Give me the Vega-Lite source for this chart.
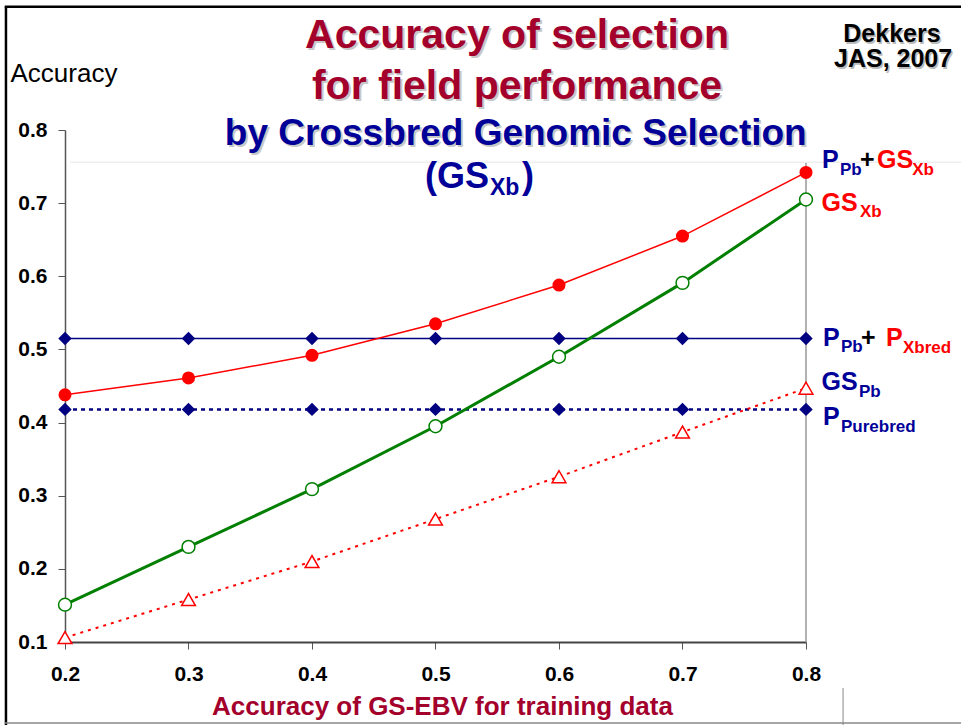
{
  "$schema": "https://vega.github.io/schema/vega-lite/v6.json",
  "width": 741,
  "height": 512,
  "autosize": {"type": "none"},
  "padding": {"left": 65, "top": 130, "right": 155, "bottom": 83},
  "background": "white",
  "config": {"view": {"stroke": null}, "font": "Liberation Sans"},
  "data": {"values": [{}]},
  "datasets": {
    "acc": [
      {"series": "PbXbred", "x": 0.2, "y": 0.515},
      {"series": "PbXbred", "x": 0.3, "y": 0.515},
      {"series": "PbXbred", "x": 0.4, "y": 0.515},
      {"series": "PbXbred", "x": 0.5, "y": 0.515},
      {"series": "PbXbred", "x": 0.6, "y": 0.515},
      {"series": "PbXbred", "x": 0.7, "y": 0.515},
      {"series": "PbXbred", "x": 0.8, "y": 0.515},
      {"series": "Purebred", "x": 0.2, "y": 0.418},
      {"series": "Purebred", "x": 0.3, "y": 0.418},
      {"series": "Purebred", "x": 0.4, "y": 0.418},
      {"series": "Purebred", "x": 0.5, "y": 0.418},
      {"series": "Purebred", "x": 0.6, "y": 0.418},
      {"series": "Purebred", "x": 0.7, "y": 0.418},
      {"series": "Purebred", "x": 0.8, "y": 0.418},
      {"series": "PbGSXb", "x": 0.2, "y": 0.438},
      {"series": "PbGSXb", "x": 0.3, "y": 0.461},
      {"series": "PbGSXb", "x": 0.4, "y": 0.492},
      {"series": "PbGSXb", "x": 0.5, "y": 0.535},
      {"series": "PbGSXb", "x": 0.6, "y": 0.588},
      {"series": "PbGSXb", "x": 0.7, "y": 0.655},
      {"series": "PbGSXb", "x": 0.8, "y": 0.742},
      {"series": "GSXb", "x": 0.2, "y": 0.151},
      {"series": "GSXb", "x": 0.3, "y": 0.230},
      {"series": "GSXb", "x": 0.4, "y": 0.309},
      {"series": "GSXb", "x": 0.5, "y": 0.395},
      {"series": "GSXb", "x": 0.6, "y": 0.490},
      {"series": "GSXb", "x": 0.7, "y": 0.591},
      {"series": "GSXb", "x": 0.8, "y": 0.705},
      {"series": "GSPb", "x": 0.2, "y": 0.106},
      {"series": "GSPb", "x": 0.3, "y": 0.158},
      {"series": "GSPb", "x": 0.4, "y": 0.210},
      {"series": "GSPb", "x": 0.5, "y": 0.268},
      {"series": "GSPb", "x": 0.6, "y": 0.326},
      {"series": "GSPb", "x": 0.7, "y": 0.387},
      {"series": "GSPb", "x": 0.8, "y": 0.447}
    ]
  },
  "layer": [
    {
      "data": {"name": "acc"},
      "transform": [{"filter": "datum.series === 'Purebred'"}],
      "mark": {"type": "line", "color": "#000080", "strokeWidth": 2.5, "strokeDash": [4, 4]},
      "encoding": {
        "x": {
          "field": "x", "type": "quantitative",
          "scale": {"domain": [0.2, 0.8], "nice": false, "zero": false},
          "axis": {
            "values": [0.2, 0.3, 0.4, 0.5, 0.6, 0.7, 0.8], "format": ".1f",
            "grid": false, "domainColor": "#444444", "domainWidth": 2,
            "tickColor": "#555555", "tickSize": 7, "tickWidth": 1,
            "labelFont": "Liberation Sans", "labelFontWeight": "bold", "labelFontSize": 21, "labelColor": "#000000",
            "labelPadding": 14, "labelFlush": false, "labelOverlap": false,
            "title": "Accuracy of GS-EBV for training data",
            "titleFont": "Liberation Sans", "titleFontWeight": "bold", "titleFontSize": 26, "titleColor": "#A3002C",
            "titleX": 377, "titleY": 72, "titleBaseline": "alphabetic", "titleAlign": "center"
          }
        },
        "y": {
          "field": "y", "type": "quantitative",
          "scale": {"domain": [0.1, 0.8], "nice": false, "zero": false},
          "axis": {
            "values": [0.1, 0.2, 0.3, 0.4, 0.5, 0.6, 0.7, 0.8], "format": ".1f",
            "grid": false, "domainColor": "#555555", "domainWidth": 1.5,
            "tickColor": "#555555", "tickSize": 7, "tickWidth": 1,
            "labelFont": "Liberation Sans", "labelFontWeight": "bold", "labelFontSize": 21, "labelColor": "#000000",
            "labelPadding": 11, "labelFlush": false, "labelOverlap": false,
            "title": "Accuracy",
            "titleFont": "Liberation Sans", "titleFontWeight": "normal", "titleFontSize": 26, "titleColor": "#000000",
            "titleAngle": 0, "titleAlign": "left", "titleBaseline": "alphabetic", "titleX": -55, "titleY": -49
          }
        }
      }
    },
    {
      "data": {"name": "acc"},
      "transform": [{"filter": "datum.series === 'PbXbred'"}],
      "mark": {"type": "line", "color": "#000080", "strokeWidth": 1.5},
      "encoding": {"x": {"field": "x", "type": "quantitative"}, "y": {"field": "y", "type": "quantitative"}}
    },
    {
      "data": {"name": "acc"},
      "transform": [{"filter": "datum.series === 'GSPb'"}],
      "mark": {"type": "line", "color": "#FF0000", "strokeWidth": 2, "strokeDash": [3, 5]},
      "encoding": {"x": {"field": "x", "type": "quantitative"}, "y": {"field": "y", "type": "quantitative"}}
    },
    {
      "data": {"name": "acc"},
      "transform": [{"filter": "datum.series === 'GSXb'"}],
      "mark": {"type": "line", "color": "#007F00", "strokeWidth": 3},
      "encoding": {"x": {"field": "x", "type": "quantitative"}, "y": {"field": "y", "type": "quantitative"}}
    },
    {
      "data": {"name": "acc"},
      "transform": [{"filter": "datum.series === 'PbGSXb'"}],
      "mark": {"type": "line", "color": "#FF0000", "strokeWidth": 1.5},
      "encoding": {"x": {"field": "x", "type": "quantitative"}, "y": {"field": "y", "type": "quantitative"}}
    },
    {
      "mark": {"type": "rule", "color": "#999999", "strokeWidth": 1.5},
      "encoding": {"x": {"datum": 0.8}, "y": {"datum": 0.1}, "y2": {"datum": 0.755}}
    },
    {
      "mark": {"type": "rule", "color": "#e6e6e6", "strokeWidth": 1},
      "encoding": {"x": {"datum": 0.204}, "x2": {"datum": 0.93}, "y": {"datum": 0.756}}
    },
    {
      "mark": {"type": "rule", "color": "#888888", "strokeWidth": 1},
      "encoding": {"x": {"datum": 0.83}, "y": {"datum": 0.037}, "y2": {"datum": -0.014}}
    },
    {
      "mark": {"type": "rule", "color": "#000000", "strokeWidth": 2.5},
      "encoding": {"x": {"datum": 0.1522}, "y": {"datum": 0.9685}, "y2": {"datum": -0.014}}
    },
    {
      "mark": {"type": "rule", "color": "#000000", "strokeWidth": 2.5},
      "encoding": {"x": {"datum": 0.1512}, "x2": {"datum": 0.93}, "y": {"datum": 0.9685}}
    },
    {
      "mark": {"type": "rule", "color": "#888888", "strokeWidth": 1.5},
      "encoding": {"x": {"datum": 0.1512}, "x2": {"datum": 0.93}, "y": {"datum": -0.0107}}
    },
    {
      "data": {"name": "acc"},
      "transform": [{"filter": "datum.series === 'Purebred' || datum.series === 'PbXbred'"}],
      "mark": {"type": "point", "shape": "diamond", "filled": true, "color": "#000080", "size": 180, "opacity": 1},
      "encoding": {"x": {"field": "x", "type": "quantitative"}, "y": {"field": "y", "type": "quantitative"}}
    },
    {
      "data": {"name": "acc"},
      "transform": [{"filter": "datum.series === 'GSPb'"}],
      "mark": {"type": "point", "shape": "triangle-up", "filled": true, "fill": "#FFFFFF", "stroke": "#FF0000", "strokeWidth": 1.5, "size": 190, "opacity": 1},
      "encoding": {"x": {"field": "x", "type": "quantitative"}, "y": {"field": "y", "type": "quantitative"}}
    },
    {
      "data": {"name": "acc"},
      "transform": [{"filter": "datum.series === 'GSXb'"}],
      "mark": {"type": "point", "shape": "circle", "filled": true, "fill": "#FFFFFF", "stroke": "#007F00", "strokeWidth": 1.5, "size": 165, "opacity": 1},
      "encoding": {"x": {"field": "x", "type": "quantitative"}, "y": {"field": "y", "type": "quantitative"}}
    },
    {
      "data": {"name": "acc"},
      "transform": [{"filter": "datum.series === 'PbGSXb'"}],
      "mark": {"type": "point", "shape": "circle", "filled": true, "color": "#FF0000", "size": 170, "opacity": 1},
      "encoding": {"x": {"field": "x", "type": "quantitative"}, "y": {"field": "y", "type": "quantitative"}}
    },
    {
      "mark": {"type": "text", "text": "Accuracy of selection", "font": "Liberation Sans", "fontWeight": "bold", "fontSize": 41, "color": "#C8C8C8", "align": "center", "baseline": "alphabetic", "dx": 2, "dy": 2},
      "encoding": {"x": {"datum": 0.566}, "y": {"datum": 0.912}}
    },
    {
      "mark": {"type": "text", "text": "Accuracy of selection", "font": "Liberation Sans", "fontWeight": "bold", "fontSize": 41, "color": "#A3002C", "align": "center", "baseline": "alphabetic"},
      "encoding": {"x": {"datum": 0.566}, "y": {"datum": 0.912}}
    },
    {
      "mark": {"type": "text", "text": "for field performance", "font": "Liberation Sans", "fontWeight": "bold", "fontSize": 41, "color": "#C8C8C8", "align": "center", "baseline": "alphabetic", "dx": 2, "dy": 2},
      "encoding": {"x": {"datum": 0.566}, "y": {"datum": 0.8424}}
    },
    {
      "mark": {"type": "text", "text": "for field performance", "font": "Liberation Sans", "fontWeight": "bold", "fontSize": 41, "color": "#A3002C", "align": "center", "baseline": "alphabetic"},
      "encoding": {"x": {"datum": 0.566}, "y": {"datum": 0.8424}}
    },
    {
      "mark": {"type": "text", "text": "by Crossbred Genomic Selection", "font": "Liberation Sans", "fontWeight": "bold", "fontSize": 37, "color": "#C8C8C8", "align": "center", "baseline": "alphabetic", "dx": 2, "dy": 2},
      "encoding": {"x": {"datum": 0.565}, "y": {"datum": 0.7795}}
    },
    {
      "mark": {"type": "text", "text": "by Crossbred Genomic Selection", "font": "Liberation Sans", "fontWeight": "bold", "fontSize": 37, "color": "#000099", "align": "center", "baseline": "alphabetic"},
      "encoding": {"x": {"datum": 0.565}, "y": {"datum": 0.7795}}
    },
    {
      "mark": {"type": "text", "text": "(GS", "font": "Liberation Sans", "fontWeight": "bold", "fontSize": 36, "color": "#000099", "align": "right", "baseline": "alphabetic"},
      "encoding": {"x": {"datum": 0.5433}, "y": {"datum": 0.7207}}
    },
    {
      "mark": {"type": "text", "text": "Xb", "font": "Liberation Sans", "fontWeight": "bold", "fontSize": 23, "color": "#000099", "align": "left", "baseline": "alphabetic"},
      "encoding": {"x": {"datum": 0.5441}, "y": {"datum": 0.7111}}
    },
    {
      "mark": {"type": "text", "text": ")", "font": "Liberation Sans", "fontWeight": "bold", "fontSize": 36, "color": "#000099", "align": "left", "baseline": "alphabetic"},
      "encoding": {"x": {"datum": 0.5700}, "y": {"datum": 0.7207}}
    },
    {
      "mark": {"type": "text", "text": "Dekkers", "font": "Liberation Sans", "fontWeight": "bold", "fontSize": 25, "color": "#BBBBBB", "align": "center", "baseline": "alphabetic", "dx": 1.5, "dy": 1.5},
      "encoding": {"x": {"datum": 0.8696}, "y": {"datum": 0.9203}}
    },
    {
      "mark": {"type": "text", "text": "Dekkers", "font": "Liberation Sans", "fontWeight": "bold", "fontSize": 25, "color": "#000000", "align": "center", "baseline": "alphabetic"},
      "encoding": {"x": {"datum": 0.8696}, "y": {"datum": 0.9203}}
    },
    {
      "mark": {"type": "text", "text": "JAS, 2007", "font": "Liberation Sans", "fontWeight": "bold", "fontSize": 25, "color": "#BBBBBB", "align": "center", "baseline": "alphabetic", "dx": 1.5, "dy": 1.5},
      "encoding": {"x": {"datum": 0.8705}, "y": {"datum": 0.8861}}
    },
    {
      "mark": {"type": "text", "text": "JAS, 2007", "font": "Liberation Sans", "fontWeight": "bold", "fontSize": 25, "color": "#000000", "align": "center", "baseline": "alphabetic"},
      "encoding": {"x": {"datum": 0.8705}, "y": {"datum": 0.8861}}
    },
    {
      "mark": {"type": "text", "text": "P", "font": "Liberation Sans", "fontWeight": "bold", "fontSize": 25, "color": "#000099", "align": "left", "baseline": "alphabetic"},
      "encoding": {"x": {"datum": 0.8130}, "y": {"datum": 0.7480}}
    },
    {
      "mark": {"type": "text", "text": "Pb", "font": "Liberation Sans", "fontWeight": "bold", "fontSize": 17, "color": "#000099", "align": "left", "baseline": "alphabetic"},
      "encoding": {"x": {"datum": 0.8275}, "y": {"datum": 0.7385}}
    },
    {
      "mark": {"type": "text", "text": "+", "font": "Liberation Sans", "fontWeight": "bold", "fontSize": 25, "color": "#000000", "align": "left", "baseline": "alphabetic"},
      "encoding": {"x": {"datum": 0.8437}, "y": {"datum": 0.7480}}
    },
    {
      "mark": {"type": "text", "text": "GS", "font": "Liberation Sans", "fontWeight": "bold", "fontSize": 25, "color": "#FF0000", "align": "left", "baseline": "alphabetic"},
      "encoding": {"x": {"datum": 0.8575}, "y": {"datum": 0.7480}}
    },
    {
      "mark": {"type": "text", "text": "Xb", "font": "Liberation Sans", "fontWeight": "bold", "fontSize": 17, "color": "#FF0000", "align": "left", "baseline": "alphabetic"},
      "encoding": {"x": {"datum": 0.8860}, "y": {"datum": 0.7385}}
    },
    {
      "mark": {"type": "text", "text": "GS", "font": "Liberation Sans", "fontWeight": "bold", "fontSize": 25, "color": "#FF0000", "align": "left", "baseline": "alphabetic"},
      "encoding": {"x": {"datum": 0.8125}, "y": {"datum": 0.6893}}
    },
    {
      "mark": {"type": "text", "text": "Xb", "font": "Liberation Sans", "fontWeight": "bold", "fontSize": 17, "color": "#FF0000", "align": "left", "baseline": "alphabetic"},
      "encoding": {"x": {"datum": 0.8437}, "y": {"datum": 0.6811}}
    },
    {
      "mark": {"type": "text", "text": "P", "font": "Liberation Sans", "fontWeight": "bold", "fontSize": 25, "color": "#000099", "align": "left", "baseline": "alphabetic"},
      "encoding": {"x": {"datum": 0.8138}, "y": {"datum": 0.5047}}
    },
    {
      "mark": {"type": "text", "text": "Pb", "font": "Liberation Sans", "fontWeight": "bold", "fontSize": 17, "color": "#000099", "align": "left", "baseline": "alphabetic"},
      "encoding": {"x": {"datum": 0.8283}, "y": {"datum": 0.4965}}
    },
    {
      "mark": {"type": "text", "text": "+", "font": "Liberation Sans", "fontWeight": "bold", "fontSize": 25, "color": "#000000", "align": "left", "baseline": "alphabetic"},
      "encoding": {"x": {"datum": 0.8445}, "y": {"datum": 0.5047}}
    },
    {
      "mark": {"type": "text", "text": "P", "font": "Liberation Sans", "fontWeight": "bold", "fontSize": 25, "color": "#FF0000", "align": "left", "baseline": "alphabetic"},
      "encoding": {"x": {"datum": 0.8648}, "y": {"datum": 0.5047}}
    },
    {
      "mark": {"type": "text", "text": "Xbred", "font": "Liberation Sans", "fontWeight": "bold", "fontSize": 17, "color": "#FF0000", "align": "left", "baseline": "alphabetic"},
      "encoding": {"x": {"datum": 0.8785}, "y": {"datum": 0.4951}}
    },
    {
      "mark": {"type": "text", "text": "GS", "font": "Liberation Sans", "fontWeight": "bold", "fontSize": 25, "color": "#000099", "align": "left", "baseline": "alphabetic"},
      "encoding": {"x": {"datum": 0.8125}, "y": {"datum": 0.4445}}
    },
    {
      "mark": {"type": "text", "text": "Pb", "font": "Liberation Sans", "fontWeight": "bold", "fontSize": 17, "color": "#000099", "align": "left", "baseline": "alphabetic"},
      "encoding": {"x": {"datum": 0.8429}, "y": {"datum": 0.4350}}
    },
    {
      "mark": {"type": "text", "text": "P", "font": "Liberation Sans", "fontWeight": "bold", "fontSize": 25, "color": "#000099", "align": "left", "baseline": "alphabetic"},
      "encoding": {"x": {"datum": 0.8138}, "y": {"datum": 0.3967}}
    },
    {
      "mark": {"type": "text", "text": "Purebred", "font": "Liberation Sans", "fontWeight": "bold", "fontSize": 17, "color": "#000099", "align": "left", "baseline": "alphabetic"},
      "encoding": {"x": {"datum": 0.8283}, "y": {"datum": 0.3871}}
    }
  ]
}
